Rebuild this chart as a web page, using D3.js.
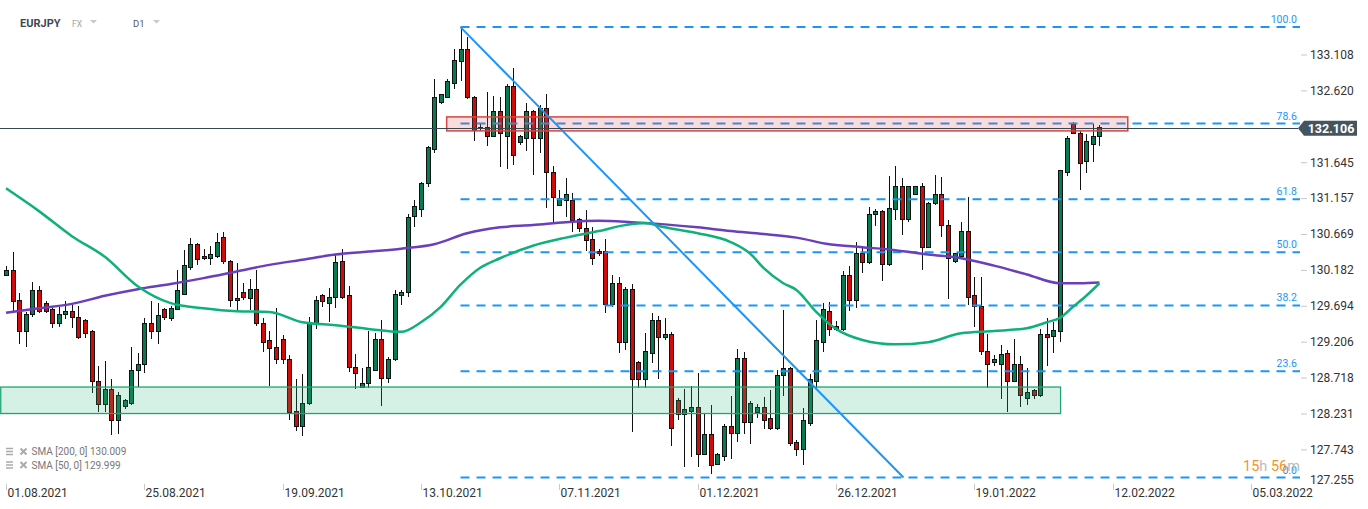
<!DOCTYPE html>
<html><head><meta charset="utf-8">
<script src="https://cdn.jsdelivr.net/npm/d3@7"></script>
<style>
body{margin:0;background:#fff;}
svg{display:block;font-family:Roboto, "Noto Sans", sans-serif;}
</style>
</head><body>
<svg id="c" width="1368" height="509"></svg>
<script>
// ---------- DATA ----------
const opens  = [130.11,130.17,129.76,129.34,129.57,129.90,129.73,129.64,129.46,129.57,129.62,129.54,129.49,129.34,128.67,128.35,128.55,128.14,128.32,128.36,128.81,128.89,129.46,129.34,129.64,129.52,129.65,129.85,130.22,130.52,130.36,130.33,130.37,130.62,130.29,129.76,129.87,129.79,129.92,129.46,129.22,129.13,129.24,128.96,128.26,128.05,128.36,129.46,129.83,129.73,129.80,130.29,129.83,128.86,128.59,128.64,128.82,129.23,128.71,128.96,129.83,129.87,130.91,131.00,131.35,131.82,132.46,132.53,132.72,133.01,133.18,132.53,132.12,132.12,132.00,132.34,132.00,132.67,131.91,131.96,132.33,131.96,132.37,131.51,131.06,131.13,131.13,130.86,130.75,130.59,130.43,130.43,129.71,129.99,129.19,129.92,128.92,128.69,129.04,129.49,129.26,129.31,128.41,128.22,128.26,128.31,127.68,127.94,127.54,127.64,128.06,127.96,128.98,128.11,128.25,128.31,128.16,128.02,128.74,128.84,127.84,127.74,128.10,128.66,129.20,129.62,129.37,129.37,130.11,129.76,130.40,130.28,130.94,130.97,130.25,131.00,131.32,130.87,131.21,131.32,130.49,131.08,131.21,130.79,130.29,130.37,130.70,129.83,129.69,129.07,128.93,128.89,129.05,128.67,128.90,128.43,128.54,128.48,129.30,129.27,129.35,131.51,132.16,132.04,131.65,131.89,131.99];
const highs  = [130.24,130.43,129.87,129.61,130.02,129.96,129.76,129.66,129.68,129.76,129.71,129.69,129.52,129.37,128.88,128.94,128.70,128.52,128.43,129.13,129.05,129.53,129.76,129.73,129.66,129.69,130.18,130.45,130.62,130.55,130.47,130.51,130.68,130.70,130.32,130.28,130.00,130.06,130.18,129.53,129.35,129.66,129.30,129.03,128.70,128.77,129.54,129.83,129.85,129.94,130.39,130.47,129.96,129.04,128.85,129.35,129.32,129.50,129.00,129.91,129.91,130.94,131.13,131.38,131.87,132.78,132.57,132.78,133.18,133.48,133.35,132.55,132.18,132.60,132.55,132.53,132.71,132.92,132.01,132.45,132.35,132.42,132.57,131.59,131.27,131.43,131.23,130.89,131.00,130.77,130.47,130.60,130.11,130.09,129.95,129.99,128.94,129.32,129.60,129.56,129.53,129.34,128.44,128.56,128.60,128.78,128.22,128.35,127.70,128.09,128.47,129.11,129.07,128.40,128.36,128.46,128.55,128.82,129.64,128.86,127.87,128.31,128.77,129.50,129.73,129.75,129.49,130.17,130.24,130.56,130.49,131.04,131.01,131.00,131.46,131.59,131.43,131.32,131.32,131.36,131.10,131.47,131.44,130.86,130.41,130.83,131.17,130.09,130.09,129.31,129.03,129.16,129.09,129.24,129.01,128.85,128.56,129.38,129.53,129.47,131.54,132.00,132.19,132.07,132.03,132.16,132.15];
const lows   = [130.10,129.61,129.18,129.13,129.54,129.60,129.60,129.39,129.41,129.52,129.39,129.24,129.26,128.51,128.25,128.25,127.94,127.95,128.29,128.35,128.59,128.78,129.24,129.18,129.50,129.49,129.64,129.84,130.18,130.25,130.32,130.25,130.34,130.26,129.68,129.64,129.77,129.64,129.42,129.07,128.60,128.90,128.90,128.14,127.99,127.93,128.35,129.38,129.68,129.47,129.66,129.79,128.80,128.56,128.58,128.58,128.81,128.33,128.64,128.94,129.71,129.81,130.77,130.90,131.31,131.77,132.44,132.52,132.64,132.75,132.50,131.93,132.07,131.87,131.99,131.58,131.55,131.60,131.88,131.80,131.47,131.77,131.02,130.83,131.05,130.90,130.70,130.70,130.44,130.25,130.37,129.60,129.68,129.05,129.09,127.98,128.58,128.58,128.92,128.70,129.23,127.79,128.14,127.50,127.64,127.50,127.67,127.41,127.53,127.58,127.61,127.84,127.95,127.82,128.17,128.02,128.01,128.01,128.47,127.79,127.65,127.53,128.06,128.58,129.07,129.28,129.35,129.35,129.62,129.66,130.14,130.26,130.78,130.03,130.24,130.86,130.66,130.83,131.20,130.18,130.48,131.06,130.63,129.79,130.28,130.36,129.71,129.41,129.03,128.58,128.88,128.43,128.25,128.66,128.32,128.35,128.43,128.45,128.88,129.05,129.20,131.46,132.03,131.27,131.50,131.65,131.87];
const closes = [130.17,129.75,129.35,129.58,129.90,129.61,129.62,129.46,129.58,129.62,129.53,129.26,129.32,128.66,128.35,128.55,128.14,128.48,128.41,128.82,128.90,129.45,129.34,129.56,129.53,129.66,129.90,130.24,130.53,130.32,130.33,130.39,130.56,130.29,129.76,129.79,129.80,129.92,129.45,129.20,129.12,128.97,128.97,128.24,128.05,128.37,129.47,129.77,129.75,129.81,130.28,129.81,128.85,128.77,128.64,128.85,129.23,128.71,128.97,129.85,129.88,130.89,131.04,131.35,131.84,132.53,132.56,132.74,133.02,133.18,132.52,132.08,132.10,132.00,132.34,132.04,132.67,131.74,131.99,132.33,131.96,132.38,131.50,131.17,131.15,131.21,130.85,130.74,130.58,130.34,130.40,129.71,129.99,129.19,129.92,128.69,128.69,129.07,129.49,129.26,129.31,128.02,128.22,128.28,128.31,127.68,127.94,127.53,127.67,128.06,127.96,128.98,128.11,128.37,128.31,128.14,128.02,128.75,128.84,127.82,127.74,128.13,128.69,129.22,129.64,129.37,129.41,130.10,129.76,130.40,130.28,130.94,130.97,130.25,131.01,131.32,130.87,131.31,131.31,130.48,131.09,131.21,130.78,130.34,130.40,130.70,129.81,129.68,129.07,128.89,128.96,129.03,128.67,128.89,128.47,128.51,128.48,129.30,129.26,129.36,131.53,131.96,132.04,131.63,131.92,132.00,132.11];

const dateLabels = ["01.08.2021","25.08.2021","19.09.2021","13.10.2021","07.11.2021","01.12.2021","26.12.2021","19.01.2022","12.02.2022","05.03.2022"];
const dateIdx    = [0,21,42,63,84,105,126,147,168,189];
const priceTicks = [133.108,132.620,131.645,131.157,130.669,130.182,129.694,129.206,128.718,128.231,127.743,127.255];

const fibLevels = [100.0,78.6,61.8,50.0,38.2,23.6,0.0];
const fibHigh = 133.48, fibLow = 127.36, fibStartIdx = 69;

const sma200Idx  = [0,5,10,15,20,25,30,35,40,45,50,55,60,65,70,75,80,85,90,95,100,105,110,115,120,125,130,135,140,145,150,155,160,163,166];
const sma200Vals = [129.60,129.66,129.72,129.83,129.92,129.99,130.07,130.16,130.25,130.32,130.39,130.43,130.47,130.53,130.68,130.76,130.79,130.83,130.85,130.83,130.80,130.76,130.71,130.67,130.62,130.53,130.49,130.45,130.39,130.34,130.24,130.12,130.00,130.00,130.01];
const sma50Idx   = [0,5,10,15,20,25,30,35,40,45,50,55,60,63,66,69,72,75,80,85,90,94,97,100,105,110,113,115,118,120,123,126,130,135,140,145,150,155,158,160,162,164,166];
const sma50Vals  = [131.29,130.98,130.64,130.36,129.96,129.73,129.66,129.62,129.61,129.47,129.43,129.38,129.34,129.47,129.68,129.98,130.21,130.34,130.51,130.62,130.71,130.79,130.82,130.76,130.68,130.56,130.40,130.21,130.00,129.91,129.61,129.38,129.23,129.17,129.20,129.32,129.35,129.39,129.47,129.53,129.68,129.83,130.00];

const lastPrice = 132.106;
const resistZone = [132.07,132.26], resistIdx = [66.9,170.3];
const supportZone = [128.23,128.59], supportIdx = [-0.8,160.1];
const trendIdx = [69,136.25], trendVals = [133.48,127.36];
const legendRows = ["SMA [200,  0] 130.009","SMA [50,  0] 129.999"];

// ---------- SCALES ----------
const svg = d3.select("#c");
const plotRight = 1300;
const x = d3.scaleLinear().domain([0,189]).range([6, 6+189*6.587]);
const y = d3.scaleLinear().domain([127.255,133.108]).range([485.3,54.5]);

// ---------- CANDLES ----------
const candles = d3.range(opens.length).map(i=>({i,o:opens[i],h:highs[i],l:lows[i],c:closes[i]}));
const gC = svg.append("g").attr("shape-rendering","crispEdges");
gC.selectAll("line").data(candles).join("line")
  .attr("x1",d=>Math.round(x(d.i))+0.5).attr("x2",d=>Math.round(x(d.i))+0.5)
  .attr("y1",d=>y(d.h)).attr("y2",d=>y(d.l))
  .attr("stroke","#111").attr("stroke-width",1);
gC.selectAll("rect").data(candles).join("rect")
  .attr("x",d=>Math.round(x(d.i))-1.5).attr("width",4)
  .attr("y",d=>y(Math.max(d.o,d.c)))
  .attr("height",d=>Math.max(1,Math.abs(y(d.o)-y(d.c))))
  .attr("fill",d=>d.c>=d.o?"#087b4e":"#d10a0a")
  .attr("stroke","#111").attr("stroke-width",1);

// ---------- FIB LINES ----------
const gF = svg.append("g");
fibLevels.forEach(p=>{
  const v = fibLow + (fibHigh-fibLow)*p/100;
  gF.append("line").attr("x1",x(fibStartIdx)).attr("x2",plotRight)
    .attr("y1",y(v)).attr("y2",y(v))
    .attr("stroke","#1e95f5").attr("stroke-width",2).attr("stroke-dasharray","9,7");
  gF.append("text").attr("x",1297).attr("y",y(v)-4).attr("text-anchor","end")
    .attr("font-size",10.5).attr("fill","#1e95f5").text(p.toFixed(1));
});

// ---------- ZONES ----------
svg.append("rect")
  .attr("x",x(supportIdx[0])).attr("width",x(supportIdx[1])-x(supportIdx[0]))
  .attr("y",y(supportZone[1])).attr("height",y(supportZone[0])-y(supportZone[1]))
  .attr("fill","rgba(46,184,126,0.2)").attr("stroke","#22a374").attr("stroke-width",1.3);
svg.append("rect")
  .attr("x",x(resistIdx[0])).attr("width",x(resistIdx[1])-x(resistIdx[0]))
  .attr("y",y(resistZone[1])).attr("height",y(resistZone[0])-y(resistZone[1]))
  .attr("fill","rgba(232,80,80,0.2)").attr("stroke","#d84545").attr("stroke-width",1.5);

// ---------- SMA ----------
const line = d3.line().x(d=>x(d[0])).y(d=>y(d[1])).curve(d3.curveMonotoneX);
svg.append("path").attr("d",line(sma200Idx.map((k,j)=>[k,sma200Vals[j]])))
  .attr("fill","none").attr("stroke","#6a3fbb").attr("stroke-width",2.5);
svg.append("path").attr("d",line(sma50Idx.map((k,j)=>[k,sma50Vals[j]])))
  .attr("fill","none").attr("stroke","#10b07c").attr("stroke-width",2.5);

// ---------- TRENDLINE ----------
svg.append("line").attr("x1",x(trendIdx[0])).attr("y1",y(trendVals[0]))
  .attr("x2",x(trendIdx[1])).attr("y2",y(trendVals[1]))
  .attr("stroke","#1e95f5").attr("stroke-width",2);

// ---------- PRICE LINE + LABEL ----------
const py = y(lastPrice);
svg.append("line").attr("x1",0).attr("x2",1298).attr("y1",Math.round(py)+0.5).attr("y2",Math.round(py)+0.5)
  .attr("stroke","#37474f").attr("stroke-width",1);

// ---------- Y AXIS ----------
const yAxis = d3.axisRight(y).tickValues(priceTicks).tickSize(6).tickPadding(3).tickFormat(d3.format(".3f"));
const gY = svg.append("g").attr("transform",`translate(${plotRight+1},0)`).call(yAxis);
gY.select(".domain").remove();
gY.selectAll(".tick line").attr("stroke","#c8c8c8");
gY.selectAll(".tick text").attr("font-size",12).attr("fill","#333").attr("font-family","Roboto, sans-serif");
gY.selectAll(".tick").filter(d=>y(d)>481).attr("transform",d=>`translate(0,480)`).select("line").remove();

svg.append("path")
  .attr("d",`M1298,${py} L1304,${py-7.5} L1357,${py-7.5} L1357,${py+7.5} L1304,${py+7.5} Z`)
  .attr("fill","#455560");
svg.append("text").attr("x",1331).attr("y",py+4.5).attr("text-anchor","middle")
  .attr("font-size",12.5).attr("font-weight","bold").attr("fill","#fff").text(lastPrice.toFixed(3));

// ---------- X AXIS ----------
const gX = svg.append("g");
dateIdx.forEach((k,j)=>{
  const xx = Math.round(x(k))+0.5;
  gX.append("line").attr("x1",xx).attr("x2",xx).attr("y1",484).attr("y2",490).attr("stroke","#c8c8c8");
  gX.append("text").attr("x",xx+1).attr("y",497).attr("font-size",12).attr("fill","#333").text(dateLabels[j]);
});

// ---------- HEADER ----------
svg.append("text").attr("x",20).attr("y",27).attr("font-size",11).attr("font-weight","bold").attr("fill","#3d4a54").text("EURJPY");
svg.append("text").attr("x",72).attr("y",27).attr("font-size",8.5).attr("fill","#9aa4aa").text("FX");
svg.append("path").attr("d","M90,20 L97,20 L93.5,23.5 Z").attr("fill","#c8c8c8");
svg.append("text").attr("x",133).attr("y",27).attr("font-size",9.5).attr("fill","#555").text("D1");
svg.append("path").attr("d","M153,20 L160,20 L156.5,23.5 Z").attr("fill","#c8c8c8");

// ---------- LEGEND ----------
legendRows.forEach((t,j)=>{
  const yy = 451.5 + j*13.5;
  const g = svg.append("g");
  [-3,0,3].forEach(o=>g.append("rect").attr("x",6).attr("y",yy+o-0.75).attr("width",7).attr("height",1.5).attr("fill","#aaa"));
  g.append("path").attr("d",`M20.5,${yy-3} L26.5,${yy+3} M26.5,${yy-3} L20.5,${yy+3}`).attr("stroke","#aaa").attr("stroke-width",2);
  g.append("text").attr("x",31.5).attr("y",yy+3.5).attr("font-size",10).attr("fill","#777").text(t);
});

// ---------- COUNTDOWN ----------
const cd = svg.append("text").attr("x",1243).attr("y",470.5).attr("font-size",14.5);
cd.append("tspan").attr("fill","#f7931e").text("15");
cd.append("tspan").attr("fill","#bbb").text("h ");
cd.append("tspan").attr("fill","#f7931e").text("56");
cd.append("tspan").attr("fill","#bbb").text("m");
</script>
</body></html>
